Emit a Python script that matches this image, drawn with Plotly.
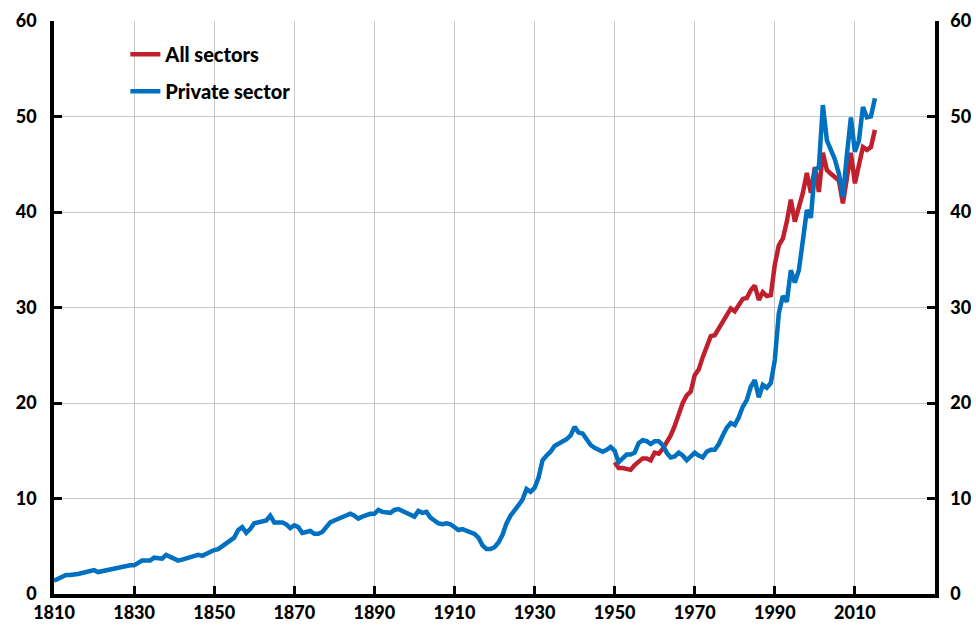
import plotly.graph_objects as go

# Private sector, yearly 1810-2015
priv_start = 1810
private_sector = [
    1.4, 1.6, 1.9, 2.0, 2.0, 2.0, 2.1, 2.2, 2.3, 2.4,   # 1810-1819
    2.5, 2.3, 2.4, 2.5, 2.6, 2.7, 2.8, 2.9, 3.0, 3.0,   # 1820-1829
    3.0, 3.2, 3.5, 3.5, 3.5, 3.8, 3.8, 3.7, 4.1, 3.9,   # 1830-1839
    3.8, 3.5, 3.6, 3.7, 3.8, 4.0, 4.1, 4.0, 4.2, 4.5,   # 1840-1849
    4.6, 4.7, 5.0, 5.4, 5.7, 5.9, 6.7, 7.0, 6.4, 6.8,   # 1850-1859
    7.4, 7.5, 7.6, 7.7, 8.2, 7.5, 7.5, 7.5, 7.3, 6.9,   # 1860-1869
    7.2, 7.0, 6.4, 6.5, 6.6, 6.3, 6.3, 6.5, 7.0, 7.5,   # 1870-1879
    7.7, 7.9, 8.1, 8.2, 8.4, 8.2, 7.9, 8.1, 8.3, 8.4,   # 1880-1889
    8.4, 8.8, 8.6, 8.5, 8.5, 8.8, 8.9, 8.7, 8.5, 8.2,   # 1890-1899
    8.1, 8.7, 8.5, 8.6, 8.0, 7.7, 7.4, 7.3, 7.4, 7.3,   # 1900-1909
    7.0, 6.7, 6.8, 6.6, 6.5, 6.3, 5.9, 5.1, 4.7, 4.7,   # 1910-1919
    4.9, 5.4, 6.2, 7.4, 8.2, 8.7, 9.3, 9.9, 11.0, 10.7, # 1920-1929
    11.1, 12.2, 14.0, 14.5, 14.9, 15.5, 15.7, 15.9, 16.2, 16.6,  # 1930-1939
    17.5, 16.9, 16.8, 16.2, 15.6, 15.3, 15.1, 14.9, 15.1, 15.4,  # 1940-1949
    15.0, 13.8, 14.2, 14.6, 14.6, 14.8, 15.8, 16.1, 16.0, 15.7,  # 1950-1959
    16.0, 16.0, 15.6, 14.8, 14.3, 14.4, 14.8, 14.5, 14.0, 14.4,  # 1960-1969
    14.8, 14.5, 14.3, 14.9, 15.1, 15.1, 15.7, 16.6, 17.4, 17.9,  # 1970-1979
    17.7, 18.5, 19.6, 20.3, 21.7, 22.4, 20.6, 21.9, 21.6, 22.1,  # 1980-1989
    24.5, 29.4, 31.2, 30.6, 33.9, 32.6, 33.9, 37.0, 40.2, 39.4,  # 1990-1999
    44.4, 44.7, 51.2, 47.5, 46.5, 45.5, 44.0, 41.6, 46.0, 49.9,  # 2000-2009
    46.3, 47.5, 51.0, 49.9, 50.0, 51.9,                          # 2010-2015
]
private_years = list(range(priv_start, priv_start + len(private_sector)))

# All sectors, yearly 1950-2015
all_start = 1950
all_sectors = [
    13.8, 13.2, 13.2, 13.1, 13.0, 13.5, 13.9, 14.2, 14.2, 14.0,  # 1950-1959
    14.8, 14.7, 15.2, 15.8, 16.6, 17.6, 18.8, 20.0, 20.8, 21.2,  # 1960-1969
    22.9, 23.5, 24.8, 26.0, 27.0, 27.1, 27.8, 28.6, 29.4, 29.9,  # 1970-1979
    29.6, 30.2, 30.9, 31.0, 31.8, 32.3, 30.8, 31.6, 31.2, 31.3,  # 1980-1989
    34.5, 36.5, 37.2, 39.0, 41.3, 39.0, 40.5, 42.0, 44.1, 42.0,  # 1990-1999
    44.7, 42.1, 46.2, 44.4, 44.0, 43.7, 43.3, 40.9, 43.4, 46.2,  # 2000-2009
    43.0, 44.7, 46.8, 46.5, 46.8, 48.6,                          # 2010-2015
]
all_years = list(range(all_start, all_start + len(all_sectors)))

x_ticks = list(range(1810, 2011, 20))
y_ticks = list(range(0, 61, 10))

RED = "#C0202E"
BLUE = "#0070C0"
FAM = "Lato, 'Open Sans', sans-serif"
TICKFONT = dict(family=FAM, size=18, color="black", weight=900)
LEGFONT = dict(family=FAM, size=20, color="black", weight=900)

fig = go.Figure()
fig.add_trace(go.Scatter(x=all_years, y=all_sectors, mode="lines", name="All sectors",
                         legendgroup="a", line=dict(color=RED, width=4.5)))
fig.add_trace(go.Scatter(x=private_years, y=private_sector, mode="lines", name="Private sector",
                         legendgroup="b", line=dict(color=BLUE, width=4.5)))
fig.add_trace(go.Scatter(x=[None], y=[None], yaxis="y2", showlegend=False, hoverinfo="skip"))

axis_common = dict(ticks="inside", ticklen=8, tickwidth=3, tickcolor="black",
                   showline=True, linewidth=3.5, linecolor="black", zeroline=False,
                   automargin=False, tickfont=TICKFONT)

fig.update_layout(
    width=976, height=629,
    margin=dict(l=54, r=41, t=21, b=35, autoexpand=False),
    paper_bgcolor="white", plot_bgcolor="white",
    font=TICKFONT,
    showlegend=True,
    legend=dict(x=0.081, y=0.976, xanchor="left", yanchor="top",
                bgcolor="rgba(0,0,0,0)", traceorder="grouped", tracegroupgap=8,
                font=LEGFONT, itemwidth=30),
    xaxis=dict(range=[1810, 2030], tickvals=x_ticks,
               showgrid=True, gridcolor="#C8C8C8", gridwidth=1.3, **axis_common),
    yaxis=dict(range=[0, 60], tickvals=y_ticks,
               showgrid=True, gridcolor="#C8C8C8", gridwidth=1.3,
               ticklabelstandoff=10, **axis_common),
    yaxis2=dict(range=[0, 60], tickvals=y_ticks, overlaying="y", side="right",
                showgrid=False, ticklabelstandoff=8, **axis_common),
)

# remove the browser's default 8px body margin so the figure fills the window
fig.write_html("out.html", config={"displayModeBar": False},
               post_script="document.body.style.margin='0';document.body.style.overflow='hidden';")
